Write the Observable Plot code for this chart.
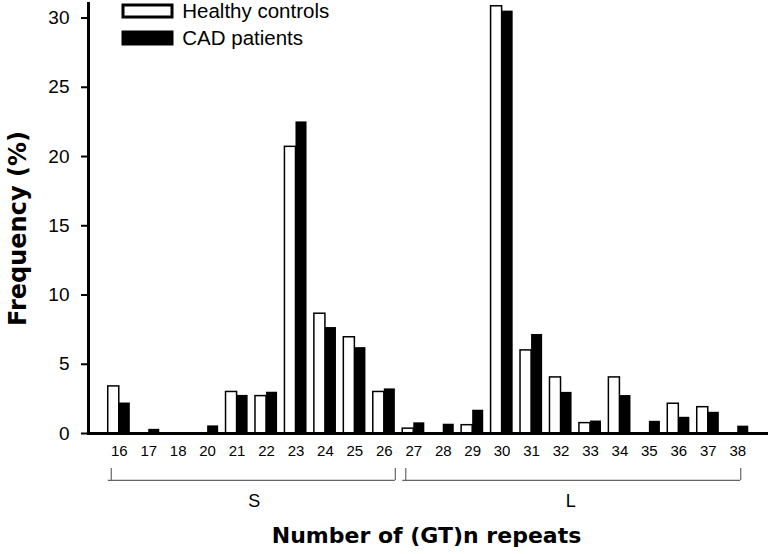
<!DOCTYPE html>
<html><head><meta charset="utf-8">
<script src="https://cdn.jsdelivr.net/npm/d3@7"></script>
<script src="https://cdn.jsdelivr.net/npm/@observablehq/plot@0.6"></script>
<style>
body{margin:0;background:#fff;font-family:"Liberation Sans",Arial,sans-serif;}
#wrap{position:relative;width:770px;height:554px;overflow:hidden;}
#legend{position:absolute;left:123px;top:-2px;}
#legend, #legend *{font-size:20.5px !important;line-height:26px !important;color:#000 !important;font-family:"Liberation Sans",Arial,sans-serif !important;margin-top:0 !important;}
#legend svg rect{stroke:#000;stroke-width:3px;}
</style></head><body><div id="wrap"><div id="chart"></div><div id="legend"></div></div>
<script>
const categories = ["16","17","18","20","21","22","23","24","25","26","27","28","29","30","31","32","33","34","35","36","37","38"];
const healthy = [3.4,0,0,0,3.0,2.7,20.7,8.65,6.95,3.0,0.35,0,0.6,30.85,6.0,4.05,0.75,4.05,0,2.15,1.9,0];
const cad     = [2.2,0.3,0,0.55,2.75,2.98,22.5,7.65,6.2,3.22,0.77,0.67,1.68,30.5,7.15,2.97,0.9,2.74,0.88,1.17,1.53,0.53];
const seriesNames = ["Healthy controls","CAD patients"];
const yTicks = [0,5,10,15,20,25,30];
const groupLabels = ["S","L"];
const groupFrom = ["16","27"];
const groupTo = ["26","38"];
const yLabel = "Frequency (%)";
const xLabel = "Number of (GT)n repeats";

const rows = categories.flatMap((c,i)=>[
  {repeat:c, series:seriesNames[0], value:healthy[i]},
  {repeat:c, series:seriesNames[1], value:cad[i]}
]);
const groups = groupLabels.map((l,i)=>({label:l, from:groupFrom[i], to:groupTo[i]}));

const W=770, H=554, ml=88, mr=2, mt=3, mb=121;
const pI=0.25, pO=0.67;
const step=(W-ml-mr)/(categories.length-pI+2*pO);
const half=step*(1-pI)/2;
const bracketY=-3.39, bracketTop=-2.53, groupTextY=-4.9;

const colorScale={domain:seriesNames, range:["#fff","#000"]};

const chart = Plot.plot({
  width:W, height:H, marginLeft:ml, marginRight:mr, marginTop:mt, marginBottom:mb,
  style:{fontFamily:"'Liberation Sans', Arial, sans-serif", color:"#000", background:"#fff"},
  x:{type:"band", domain:categories, paddingInner:pI, paddingOuter:pO, round:false},
  y:{domain:[0,31.05]},
  color:colorScale,
  marks:[
    Plot.barY(rows.filter(d=>d.series===seriesNames[0]), {x:"repeat", y:"value", fill:"series", stroke:"#000", strokeWidth:1.5, insetRight:half}),
    Plot.barY(rows.filter(d=>d.series===seriesNames[1]), {x:"repeat", y:"value", fill:"series", insetLeft:half}),
    Plot.ruleY([0], {stroke:"#000", strokeWidth:3}),
    Plot.frame({anchor:"left", stroke:"#000", strokeWidth:3}),
    Plot.axisY({ticks:yTicks, tickSize:7, tickPadding:12, fontSize:19, strokeWidth:2, label:null}),
    Plot.axisX({tickSize:0, tickPadding:12, fontSize:15, label:null}),
    Plot.text([yLabel], {frameAnchor:"left", textAnchor:"middle", rotate:-90, dx:-70, dy:10, fontSize:24, fontWeight:"bold", fontFamily:"'DejaVu Sans', sans-serif"}),
    Plot.text([xLabel], {frameAnchor:"bottom", lineAnchor:"middle", dy:102, dx:-2, fontSize:22, fontWeight:"bold", fontFamily:"'DejaVu Sans', sans-serif"}),
    // S bracket
    Plot.ruleY([groups[0]], {x1:"from", x2:"to", y:bracketY, stroke:"#666", strokeWidth:1.2}),
    Plot.ruleX([groups[0]], {x:"from", y1:bracketY, y2:bracketTop, dx:-8, stroke:"#666", strokeWidth:1.2}),
    Plot.ruleX([groups[0]], {x:"to", y1:bracketY, y2:bracketTop, dx:11, stroke:"#666", strokeWidth:1.2}),
    // L bracket
    Plot.ruleY([groups[1]], {x1:"from", x2:"to", y:bracketY, insetRight:8, stroke:"#666", strokeWidth:1.2}),
    Plot.ruleX([groups[1]], {x:"from", y1:bracketY, y2:bracketTop, dx:-8, stroke:"#666", strokeWidth:1.2}),
    Plot.ruleX([groups[1]], {x:"to", y1:bracketY, y2:bracketTop, dx:3, stroke:"#666", strokeWidth:1.2}),
    Plot.text([groups[0]], {x:"from", y:groupTextY, text:"label", dx:135, fontSize:18}),
    Plot.text([groups[1]], {x:"from", y:groupTextY, text:"label", dx:157, fontSize:18})
  ]
});
document.getElementById("chart").appendChild(chart);

const legend = Plot.legend({color:colorScale, legend:"swatches", swatchWidth:49, swatchHeight:12, columns:1, className:"lg"});
document.getElementById("legend").appendChild(legend);
</script></body></html>
